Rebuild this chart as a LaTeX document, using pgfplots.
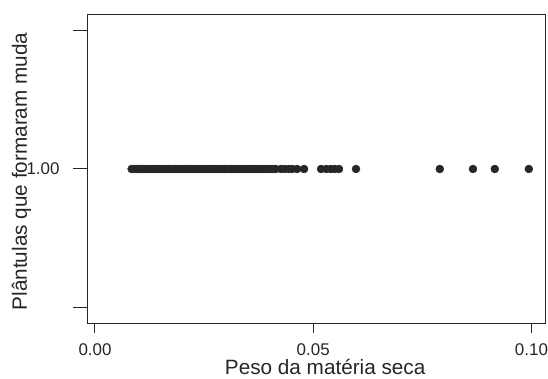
\documentclass[border=0pt]{standalone}
\usepackage{pgfplots}
\pgfplotsset{compat=1.18}
\usepackage{fontspec}
\setmainfont{Liberation Sans}
\begin{document}
\begin{tikzpicture}
\begin{axis}[
  scale only axis,
  width=457bp, height=308bp,
  xmin=-0.0016, xmax=0.1031,
  ymin=0.446, ymax=1.554,
  axis line style={black!85, line width=1bp},
  tick style={black!85, line width=1bp},
  tick align=outside,
  major tick length=15bp,
  xtick style={/pgfplots/major tick length=10bp},
  xtick={0,0.05,0.1},
  xticklabels={0.00,0.05,0.10},
  ytick={0.5,1,1.5},
  yticklabels={,1.00,},
  xtick pos=bottom, ytick pos=left,
  /pgf/number format/assume math mode=true,
  ticklabel style={font=\fontsize{17}{20}\selectfont, text=black!85},
  yticklabel style={xshift=-10bp},
  xticklabel style={yshift=-2bp},
  xlabel={Peso da matéria seca},
  ylabel={Plântulas que formaram muda},
  label style={font=\fontsize{20.8}{24}\selectfont, text=black!85},
  xlabel style={at={(axis description cs:0.519,-0.168)}, anchor=base},
  ylabel style={at={(axis description cs:-0.1335,0.492)}, anchor=base, rotate=0},
  clip=false,
]
\addplot[only marks, mark=*, mark size=4bp, mark options={fill=black!85, draw=black!85}] coordinates {
(0.0084,1) (0.0090,1) (0.0095,1) (0.0101,1) (0.0106,1) (0.0110,1) (0.0116,1) (0.0121,1)
(0.0127,1) (0.0131,1) (0.0137,1) (0.0142,1) (0.0148,1) (0.0153,1) (0.0158,1) (0.0163,1)
(0.0169,1) (0.0174,1) (0.0179,1) (0.0185,1) (0.0190,1) (0.0195,1) (0.0201,1) (0.0206,1)
(0.0211,1) (0.0216,1) (0.0222,1) (0.0227,1) (0.0233,1) (0.0238,1) (0.0243,1) (0.0249,1)
(0.0254,1) (0.0259,1) (0.0264,1) (0.0270,1) (0.0275,1) (0.0281,1) (0.0286,1) (0.0291,1)
(0.0297,1) (0.0302,1) (0.0308,1) (0.0313,1) (0.0318,1) (0.0324,1) (0.0329,1) (0.0335,1)
(0.0340,1) (0.0346,1) (0.0351,1) (0.0357,1) (0.0362,1) (0.0368,1) (0.0373,1) (0.0379,1)
(0.0384,1) (0.0390,1) (0.0396,1) (0.0402,1) (0.0408,1) (0.0414,1)
(0.0426,1) (0.0435,1) (0.0444,1) (0.0452,1) (0.0463,1)
(0.0479,1) (0.0518,1) (0.0530,1) (0.0540,1) (0.0549,1) (0.0559,1) (0.0598,1)
(0.0790,1) (0.0866,1) (0.0916,1) (0.0994,1)
};
\end{axis}
\pgfresetboundingbox
\path[use as bounding box] ([xshift=-88bp,yshift=-56bp]current axis.south west) rectangle ([xshift=3bp,yshift=15bp]current axis.north east);
\end{tikzpicture}
\end{document}
